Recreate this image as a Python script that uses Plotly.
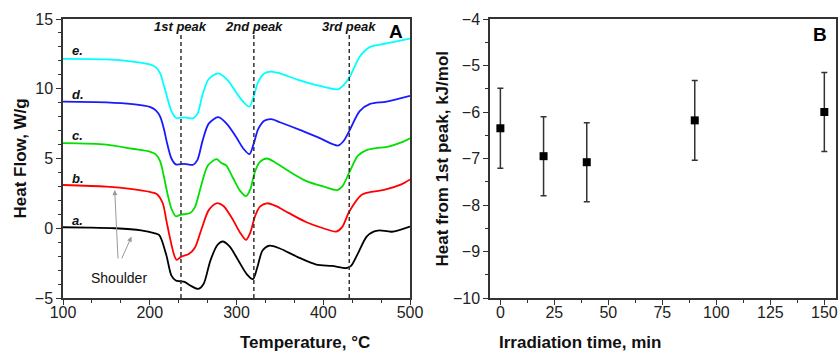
import plotly.graph_objects as go

# ---------------- Panel A: DSC curves ----------------
temp_a = [100, 130, 160, 190, 205, 211, 219, 225, 230, 235, 240, 248, 256, 262, 270, 278, 284, 292, 302, 312, 319, 324, 330, 338, 350, 370, 392, 410, 427, 432, 440, 450, 458, 465, 479, 500]
flow_a = [0.07, 0.05, 0.0, -0.15, -0.35, -0.5, -1.9, -3.4, -3.75, -3.8, -3.85, -4.15, -4.35, -4.0, -2.3, -1.2, -0.95, -1.3, -2.3, -3.3, -3.65, -2.8, -1.6, -1.25, -1.45, -2.05, -2.6, -2.7, -2.85, -2.7, -1.8, -0.6, -0.24, -0.15, -0.25, 0.12]

temp_b = [100, 150, 180, 200, 208, 215, 219, 223, 228, 231, 236, 245, 252, 260, 268, 277, 285, 295, 305, 311, 316, 321, 327, 335, 345, 360, 380, 400, 415, 422, 430, 444, 455, 470, 490, 500]
flow_b = [3.1, 2.98, 2.8, 2.6, 2.46, 1.79, 0.6, -0.6, -1.9, -2.27, -2.05, -1.85, -1.4, 0.0, 1.3, 1.79, 1.6, 0.7, -0.4, -0.84, -0.3, 0.8, 1.55, 1.79, 1.6, 1.1, 0.45, 0.0, -0.24, 0.1, 1.2, 2.39, 2.6, 2.75, 3.15, 3.5]

temp_c = [100, 150, 180, 200, 207, 212, 216, 220, 225, 230, 236, 246, 252, 259, 267, 277, 282, 288, 296, 304, 311, 316, 321, 327, 335, 345, 360, 380, 400, 416, 422, 430, 440, 450, 461, 475, 490, 500]
flow_c = [6.1, 6.0, 5.7, 5.5, 5.3, 4.8, 3.8, 2.6, 1.4, 0.86, 0.98, 1.07, 1.5, 3.0, 4.5, 4.95, 4.7, 4.5, 3.6, 2.7, 2.3, 2.8, 4.0, 4.75, 5.0, 4.7, 4.1, 3.4, 3.0, 2.74, 3.0, 4.0, 5.2, 5.6, 5.74, 5.85, 6.15, 6.45]

temp_d = [100, 150, 180, 200, 207, 212, 216, 220, 225, 230, 240, 250, 255, 261, 268, 279, 290, 300, 308, 315, 320, 325, 332, 340, 350, 373, 396, 417, 424, 431, 442, 454, 473, 500]
flow_d = [9.08, 9.03, 8.9, 8.7, 8.45, 8.0, 7.2, 6.1, 5.0, 4.58, 4.62, 4.55, 4.9, 6.3, 7.5, 7.96, 7.4, 6.5, 5.7, 5.31, 6.1, 7.1, 7.7, 7.82, 7.6, 7.05, 6.46, 5.93, 6.3, 7.1, 8.4, 8.91, 9.08, 9.49]

temp_e = [100, 150, 180, 200, 207, 212, 216, 220, 225, 230, 240, 250, 255, 261, 268, 279, 290, 300, 308, 315, 320, 325, 332, 340, 350, 373, 396, 417, 424, 431, 442, 454, 473, 500]
flow_e = [12.14, 12.1, 11.95, 11.75, 11.55, 11.1, 10.3, 9.4, 8.4, 7.92, 7.95, 7.88, 8.2, 9.6, 10.7, 11.1, 10.6, 9.7, 9.05, 8.72, 9.5, 10.5, 11.1, 11.23, 11.1, 10.6, 10.2, 9.96, 10.3, 10.9, 12.3, 13.0, 13.25, 13.6]

curve_labels = ["a.", "b.", "c.", "d.", "e."]
curve_label_y = [0.55, 3.58, 6.62, 9.6, 12.73]
curve_colors = ["#000000", "#ff0000", "#00e000", "#1a1aff", "#00ffff"]

peak_temps = [236, 320, 430]
peak_names = ["1st peak", "2nd peak", "3rd peak"]

# ---------------- Panel B: heat of 1st peak ----------------
irr_time = [0, 20, 40, 90, 150]
heat_1st = [-6.35, -6.95, -7.08, -6.18, -6.0]
heat_err = [0.86, 0.85, 0.85, 0.86, 0.85]

AX = "#333333"
FONT = "Liberation Sans, Arial, sans-serif"

fig = go.Figure()

series = [(temp_a, flow_a), (temp_b, flow_b), (temp_c, flow_c), (temp_d, flow_d), (temp_e, flow_e)]
for (tx, fy), col in zip(series, curve_colors):
    fig.add_trace(go.Scatter(x=tx, y=fy, mode="lines", xaxis="x", yaxis="y",
                             line=dict(color=col, width=1.8, shape="spline", smoothing=0.8),
                             showlegend=False, hoverinfo="skip"))

for t in peak_temps:
    fig.add_shape(type="line", xref="x", yref="y", x0=t, x1=t, y0=-5, y1=13.85,
                  line=dict(color=AX, width=1.5, dash="4px,3px"))

for t, name in zip(peak_temps, peak_names):
    fig.add_annotation(x=t, y=14.45, xref="x", yref="y", text="<b><i>%s</i></b>" % name,
                       showarrow=False, font=dict(family=FONT, size=13, color="#111"))

for lab, ly in zip(curve_labels, curve_label_y):
    fig.add_annotation(x=108, y=ly, xref="x", yref="y", text="<b><i>%s</i></b>" % lab,
                       showarrow=False, xanchor="left", font=dict(family=FONT, size=13, color="#111"))

fig.add_annotation(x=484, y=14.09, xref="x", yref="y", text="<b>A</b>", showarrow=False,
                   font=dict(family=FONT, size=19, color="#000"))

fig.add_annotation(x=164.5, y=-3.57, xref="x", yref="y", text="Shoulder", showarrow=False,
                   font=dict(family=FONT, size=14, color="#111"))
fig.add_annotation(x=159.6, y=2.74, ax=163.5, ay=-2.27, xref="x", yref="y", axref="x", ayref="y",
                   text="", showarrow=True, arrowhead=2, arrowsize=1, arrowwidth=1, arrowcolor="#999999")
fig.add_annotation(x=179, y=-0.6, ax=167, ay=-2.27, xref="x", yref="y", axref="x", ayref="y",
                   text="", showarrow=True, arrowhead=2, arrowsize=1, arrowwidth=1, arrowcolor="#999999")

fig.add_trace(go.Scatter(x=irr_time, y=heat_1st, mode="markers", xaxis="x2", yaxis="y2",
                         marker=dict(symbol="square", size=8, color="#000"),
                         error_y=dict(type="data", array=heat_err, visible=True, color=AX, thickness=1.5, width=3),
                         showlegend=False, hoverinfo="skip"))

fig.add_annotation(x=148, y=-4.34, xref="x2", yref="y2", text="<b>B</b>", showarrow=False,
                   font=dict(family=FONT, size=19, color="#000"))

# axis titles placed in paper coordinates
title_font = dict(family=FONT, size=17, color="#111")
fig.add_annotation(x=0.226, y=-0.161, xref="paper", yref="paper", text="<b>Temperature, °C</b>",
                   showarrow=False, yanchor="middle", font=title_font)
fig.add_annotation(x=0.776, y=-0.161, xref="paper", yref="paper", text="<b>Irradiation time, min</b>",
                   showarrow=False, yanchor="middle", font=title_font)
fig.add_annotation(x=-0.0556, y=0.5, xref="paper", yref="paper", text="<b>Heat Flow, W/g</b>",
                   showarrow=False, textangle=-90, xanchor="center", font=title_font)
fig.add_annotation(x=0.4915, y=0.5, xref="paper", yref="paper", text="<b>Heat from 1st peak, kJ/mol</b>",
                   showarrow=False, textangle=-90, xanchor="center", font=title_font)

common = dict(showline=True, linecolor=AX, linewidth=1.5, mirror=True, ticks="outside",
              ticklen=5, tickwidth=1.2, tickcolor=AX, showgrid=False, zeroline=False,
              tickfont=dict(family=FONT, size=16, color="#222"))

fig.update_layout(
    width=840, height=355,
    margin=dict(l=63, r=4, t=19, b=57, autoexpand=False),
    paper_bgcolor="white", plot_bgcolor="white",
    xaxis=dict(domain=[0, 0.4489], range=[100, 500], dtick=100, tick0=100, ticklabelstandoff=-6,
               minor=dict(dtick=100 / 3, tick0=100, ticks="outside", ticklen=3, tickcolor=AX, tickwidth=1),
               **common),
    yaxis=dict(range=[-5, 15], dtick=5, tick0=0,
               minor=dict(dtick=1, ticks="outside", ticklen=3, tickcolor=AX, tickwidth=1),
               **common),
    xaxis2=dict(domain=[0.5524, 1], range=[-4.8, 155.4], dtick=25, tick0=0, anchor="y2", ticklabelstandoff=-6,
                minor=dict(dtick=12.5, tick0=0, ticks="outside", ticklen=3, tickcolor=AX, tickwidth=1),
                **common),
    yaxis2=dict(range=[-10, -4], dtick=1, tick0=0, anchor="x2",
                minor=dict(dtick=0.5, ticks="outside", ticklen=3, tickcolor=AX, tickwidth=1),
                **common),
)

fig.write_html("out.html", config={"displayModeBar": False},
               post_script="document.body.style.margin='0px';document.body.style.overflow='hidden';")
